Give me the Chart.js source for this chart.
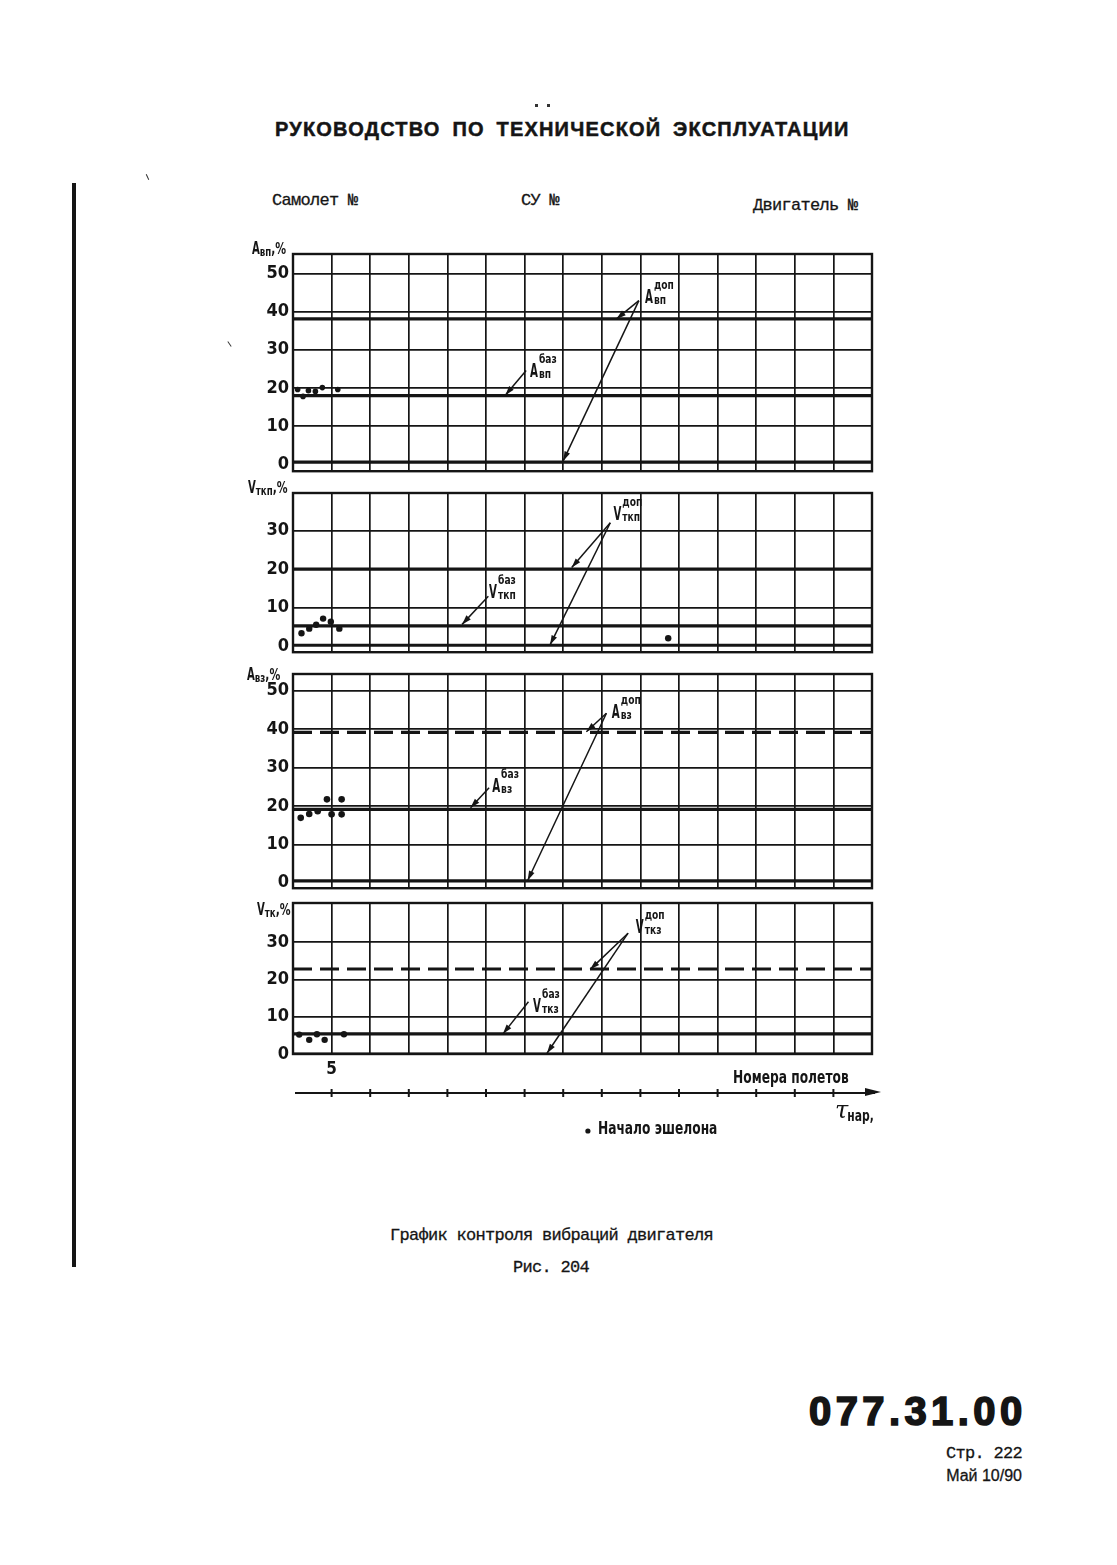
<!DOCTYPE html>
<html lang="ru">
<head>
<meta charset="utf-8">
<title>График контроля вибраций двигателя</title>
<script src="https://cdn.jsdelivr.net/npm/chart.js@4.4.1/dist/chart.umd.min.js"></script>
<style>
  html, body { margin: 0; padding: 0; background: #fff; }
  body { width: 1117px; height: 1565px; position: relative; overflow: hidden; color: #151515; }
  .abs { position: absolute; white-space: nowrap; line-height: 1; }
  .mono { font-family: 'Liberation Mono', 'DejaVu Sans Mono', monospace; font-size: 17px; letter-spacing: -0.7px; -webkit-text-stroke: 0.3px #151515; }
  .sans { font-family: 'Liberation Sans', Arial, sans-serif; }
  .speck { position: absolute; background: #333; }
  canvas { position: absolute; }
</style>
</head>
<body>
<div class="abs" style="left:72px;top:183px;width:4px;height:1084px;background:#151515"></div>
<div class="speck" style="left:535px;top:104px;width:3px;height:3px"></div>
<div class="speck" style="left:547px;top:104px;width:3px;height:3px"></div>
<div class="speck" style="left:147px;top:174px;width:1px;height:6px;transform:rotate(-25deg)"></div>
<div class="speck" style="left:229px;top:341px;width:1px;height:6px;transform:rotate(-35deg)"></div>

<div class="abs sans" style="left:275px;top:119px;font-size:20px;font-weight:bold;letter-spacing:1.2px;word-spacing:5px;-webkit-text-stroke:0.5px #151515">РУКОВОДСТВО ПО ТЕХНИЧЕСКОЙ ЭКСПЛУАТАЦИИ</div>

<div class="abs mono" style="left:272px;top:192px">Самолет №</div>
<div class="abs mono" style="left:521px;top:192px">СУ №</div>
<div class="abs mono" style="left:753px;top:197px">Двигатель №</div>

<canvas id="p1"></canvas>
<canvas id="p2"></canvas>
<canvas id="p3"></canvas>
<canvas id="p4"></canvas>

<div class="abs mono" style="left:390px;top:1227px">График контроля вибраций двигателя</div>
<div class="abs mono" style="left:513px;top:1259px">Рис. 204</div>

<div class="abs sans" style="left:809px;top:1391px;font-size:40px;font-weight:bold;letter-spacing:4.4px;-webkit-text-stroke:1.6px #151515">077.31.00</div>
<div class="abs mono" style="right:95px;top:1445px">Стр. 222</div>
<div class="abs sans" style="right:95px;top:1468px;font-size:16px;-webkit-text-stroke:0.3px #151515">Май 10/90</div>

<script>
// flight numbers on the horizontal axis (one grid column = 5 flights)
const flightTicks = [0, 5, 10, 15, 20, 25, 30, 35, 40, 45, 50, 55, 60, 65, 70, 75];
const flightLabels = [5];

// A вп, %
const avpTicks = [0, 10, 20, 30, 40, 50];
const avpFlights = [0.6, 1.3, 2.0, 2.9, 3.8, 5.8];
const avpValues = [19.6, 17.8, 19.3, 19.1, 20.1, 19.6];
const avpDop = [38.1, 0.6];
const avpBaz = 18.0;

// V ткп, %
const vtkpTicks = [0, 10, 20, 30];
const vtkpFlights = [1.1, 2.1, 3.0, 3.9, 4.9, 6.0, 48.6];
const vtkpValues = [3.4, 4.6, 5.6, 7.2, 6.4, 4.6, 2.1];
const vtkpDop = [20.0, 0.3];
const vtkpBaz = 5.3;

// A вз, %
const avzTicks = [0, 10, 20, 30, 40, 50];
const avzFlights = [1.0, 2.1, 3.2, 4.4, 5.0, 6.3, 6.3];
const avzValues = [16.9, 17.9, 18.6, 21.7, 17.8, 21.7, 17.8];
const avzDop = [39.1, 0.5];
const avzBaz = 19.1;

// V тк, %
const vtkTicks = [0, 10, 20, 30];
const vtkFlights = [0.8, 2.1, 3.1, 4.1, 6.6];
const vtkValues = [5.2, 3.8, 5.3, 3.8, 5.3];
const vtkDop = [22.8, 0.0];
const vtkBaz = 5.4;

const INK = '#151515';
const NARROW = "'DejaVu Sans Condensed','Liberation Sans Narrow','Roboto Condensed','DejaVu Sans',sans-serif";
const CANVAS_LEFT = 230, CANVAS_W = 670, Y_AXIS_W = 63, PAD_R = 28, PAD_T = 28;

function pts(xs, ys) {
  return xs.map((x, i) => ({ x, y: ys[i] }));
}

// text squeezed horizontally, returns drawn width
function narrowText(ctx, s, x, y, size, sx, weight) {
  ctx.save();
  ctx.font = `${weight || 'bold'} ${size}px ${NARROW}`;
  ctx.translate(x, y);
  ctx.scale(sx, 1);
  ctx.fillText(s, 0, 0);
  const w = ctx.measureText(s).width * sx;
  ctx.restore();
  return w;
}

function symbol(ctx, x, y, main, sup, sub) {
  const w = narrowText(ctx, main, x, y, 19, 0.6);
  if (sup) narrowText(ctx, sup, x + w + 1, y - 14, 13, 0.78);
  if (sub) narrowText(ctx, sub, x + w + 1, y + 1, 13, 0.78);
}

function arrow(ctx, x0, y0, x1, y1) {
  ctx.beginPath();
  ctx.moveTo(x0, y0);
  ctx.lineTo(x1, y1);
  ctx.stroke();
  const a = Math.atan2(y1 - y0, x1 - x0), L = 10, h = 0.3;
  ctx.beginPath();
  ctx.moveTo(x1, y1);
  ctx.lineTo(x1 - L * Math.cos(a - h), y1 - L * Math.sin(a - h));
  ctx.lineTo(x1 - L * Math.cos(a + h), y1 - L * Math.sin(a + h));
  ctx.closePath();
  ctx.fill();
}

const panels = [
  {
    id: 'p1', top: 254, bottom: 472, yMin: -1.8, yMax: 55.1, ticks: avpTicks,
    flights: avpFlights, values: avpValues, r: 2.8, dop: avpDop, baz: avpBaz, dashed: false,
    title: { main: 'A', sub: 'вп', dx: -41, dy: 0 },
    notes: [
      { main: 'A', sup: 'доп', sub: 'вп', at: [45.6, 42.3], from: [44.8, 42.9], to: [[41.9, 38.1], [35.0, 0.9]] },
      { main: 'A', sup: 'баз', sub: 'вп', at: [30.7, 23.0], from: [30.2, 24.6], to: [[27.5, 18.1]] }
    ]
  },
  {
    id: 'p2', top: 493, bottom: 653, yMin: -1.5, yMax: 39.7, ticks: vtkpTicks,
    flights: vtkpFlights, values: vtkpValues, r: 3.2, dop: vtkpDop, baz: vtkpBaz, dashed: false,
    title: { main: 'V', sub: 'ткп', dx: -45, dy: 0 },
    notes: [
      { main: 'V', sup: 'доп', sub: 'ткп', at: [41.5, 32.7], from: [41.1, 32.0], to: [[36.1, 20.4], [33.3, 0.4]] },
      { main: 'V', sup: 'баз', sub: 'ткп', at: [25.4, 12.6], from: [25.3, 13.0], to: [[21.9, 5.7]] }
    ]
  },
  {
    id: 'p3', top: 674, bottom: 889, yMin: -1.4, yMax: 54.3, ticks: avzTicks,
    flights: avzFlights, values: avzValues, r: 3.3, dop: avzDop, baz: avzBaz, dashed: true,
    title: { main: 'A', sub: 'вз', dx: -46, dy: 6 },
    notes: [
      { main: 'A', sup: 'доп', sub: 'вз', at: [41.3, 42.9], from: [40.6, 44.1], to: [[38.0, 39.3], [30.4, 0.6]] },
      { main: 'A', sup: 'баз', sub: 'вз', at: [25.8, 23.5], from: [25.4, 24.7], to: [[23.0, 19.5]] }
    ]
  },
  {
    id: 'p4', top: 903, bottom: 1054, yMin: 0, yMax: 40.5, ticks: vtkTicks,
    flights: vtkFlights, values: vtkValues, r: 3.2, dop: vtkDop, baz: vtkBaz, dashed: true,
    title: { main: 'V', sub: 'тк', dx: -36, dy: 12 },
    notes: [
      { main: 'V', sup: 'доп', sub: 'ткз', at: [44.4, 32.4], from: [43.4, 32.4], to: [[38.5, 22.7], [32.9, 0.2]] },
      { main: 'V', sup: 'баз', sub: 'ткз', at: [31.1, 11.3], from: [30.5, 14.0], to: [[27.2, 5.4]] }
    ],
    footer: true
  }
];

function limitLine(v, dash) {
  return {
    type: 'line',
    data: [{ x: flightTicks[0], y: v }, { x: flightTicks[flightTicks.length - 1], y: v }],
    borderColor: INK, borderWidth: 3.2, pointRadius: 0,
    borderDash: dash ? [19, 8] : []
  };
}

function decor(p) {
  return {
    id: 'decor_' + p.id,
    afterDraw(chart) {
      const { ctx, chartArea: a, scales: { x, y } } = chart;
      ctx.save();
      ctx.strokeStyle = INK;
      ctx.fillStyle = INK;
      ctx.lineWidth = 2.4;
      ctx.strokeRect(a.left, a.top, a.right - a.left, a.bottom - a.top);

      // axis title
      const t = p.title;
      let tx = a.left + t.dx, ty = a.top + t.dy;
      tx += narrowText(ctx, t.main, tx, ty, 17, 0.66);
      tx += narrowText(ctx, t.sub, tx, ty + 2, 12, 0.8);
      narrowText(ctx, ',%', tx, ty, 16, 0.75);

      // limit labels with arrows
      ctx.lineWidth = 1.5;
      p.notes.forEach(n => {
        const fx = x.getPixelForValue(n.from[0]), fy = y.getPixelForValue(n.from[1]);
        n.to.forEach(e => arrow(ctx, fx, fy, x.getPixelForValue(e[0]), y.getPixelForValue(e[1])));
        symbol(ctx, x.getPixelForValue(n.at[0]), y.getPixelForValue(n.at[1]), n.main, n.sup, n.sub);
      });

      if (p.footer) {
        // flight / operating time axis
        const ay = a.bottom + 39;
        const xEnd = a.right + 9;
        ctx.lineWidth = 2;
        ctx.beginPath();
        ctx.moveTo(a.left + 2, ay);
        ctx.lineTo(xEnd - 6, ay);
        ctx.stroke();
        flightTicks.slice(1, -1).forEach(v => {
          const px = x.getPixelForValue(v);
          ctx.beginPath();
          ctx.moveTo(px, ay - 4);
          ctx.lineTo(px, ay + 4);
          ctx.stroke();
        });
        ctx.beginPath();
        ctx.moveTo(xEnd, ay - 1);
        ctx.lineTo(xEnd - 16, ay - 5);
        ctx.lineTo(xEnd - 16, ay + 3);
        ctx.closePath();
        ctx.fill();

        narrowText(ctx, 'Номера полетов', x.getPixelForValue(57.0), a.bottom + 29, 17, 0.8);
        ctx.save();
        ctx.font = `italic 24px 'DejaVu Serif', serif`;
        ctx.fillText('τ', x.getPixelForValue(70.2), a.bottom + 64);
        ctx.restore();
        narrowText(ctx, 'нар,', x.getPixelForValue(71.8), a.bottom + 67, 15, 0.8);
        ctx.beginPath();
        ctx.arc(x.getPixelForValue(38.2), a.bottom + 77, 2.6, 0, Math.PI * 2);
        ctx.fill();
        narrowText(ctx, 'Начало эшелона', x.getPixelForValue(39.5), a.bottom + 80, 17, 0.8);
      }
      ctx.restore();
    }
  };
}

panels.forEach(p => {
  const xH = p.footer ? 91 : 14;
  const cv = document.getElementById(p.id);
  cv.width = CANVAS_W;
  cv.height = (p.bottom - p.top) + PAD_T + xH;
  cv.style.left = CANVAS_LEFT + 'px';
  cv.style.top = (p.top - PAD_T) + 'px';

  new Chart(cv, {
    type: 'scatter',
    data: {
      datasets: [
        {
          type: 'scatter', data: pts(p.flights, p.values),
          pointRadius: p.r, pointBackgroundColor: INK, pointBorderWidth: 0
        },
        limitLine(p.dop[0], p.dashed),
        limitLine(p.baz, false),
        limitLine(p.dop[1], false)
      ]
    },
    options: {
      responsive: false,
      animation: false,
      events: [],
      layout: { padding: { left: 0, right: PAD_R, top: PAD_T, bottom: 0 } },
      plugins: { legend: { display: false }, tooltip: { enabled: false } },
      scales: {
        x: {
          type: 'linear',
          min: flightTicks[0],
          max: flightTicks[flightTicks.length - 1],
          afterBuildTicks: s => { s.ticks = flightTicks.map(v => ({ value: v })); },
          afterFit: s => { s.height = xH; },
          border: { display: false },
          grid: {
            drawTicks: false, lineWidth: 1.7,
            color: c => (c.tick && (c.tick.value === flightTicks[0] || c.tick.value === flightTicks[flightTicks.length - 1])) ? 'rgba(0,0,0,0)' : INK
          },
          ticks: {
            display: !!p.footer, autoSkip: false, maxRotation: 0, padding: 5, color: INK,
            font: { family: NARROW, size: 17, weight: 'bold' },
            callback: v => flightLabels.includes(v) ? String(v) : ''
          }
        },
        y: {
          type: 'linear',
          min: p.yMin,
          max: p.yMax,
          afterBuildTicks: s => { s.ticks = p.ticks.map(v => ({ value: v })); },
          afterFit: s => { s.width = Y_AXIS_W; },
          border: { display: false },
          grid: {
            drawTicks: false, lineWidth: 1.7,
            color: c => (c.tick && c.tick.value === 0) ? 'rgba(0,0,0,0)' : INK
          },
          ticks: {
            autoSkip: false, padding: 4, color: INK,
            font: { family: NARROW, size: 18, weight: 'bold' }
          }
        }
      }
    },
    plugins: [decor(p)]
  });
});
</script>
</body>
</html>
